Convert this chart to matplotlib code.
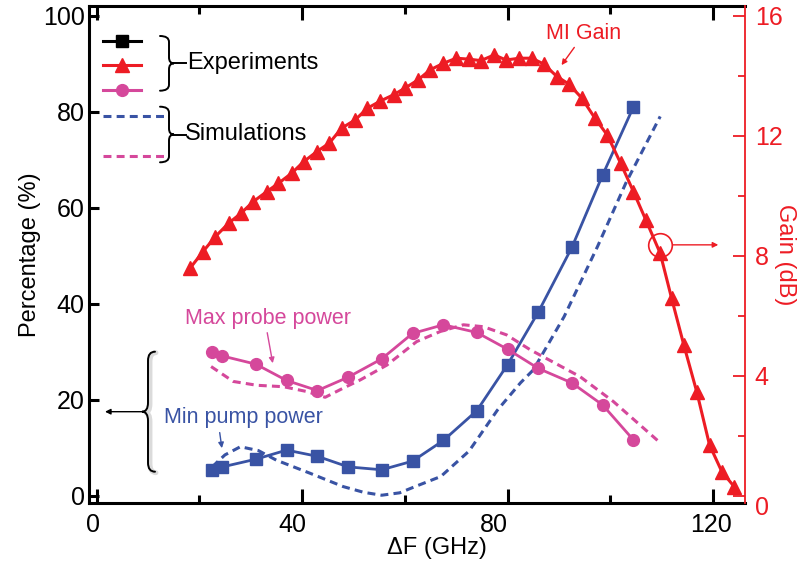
import numpy as np
import matplotlib.pyplot as plt
from matplotlib import font_manager
from matplotlib.path import Path
from matplotlib.patches import PathPatch
from matplotlib.lines import Line2D
from matplotlib.transforms import ScaledTranslation

plt.rcParams['font.family'] = ['Liberation Sans', 'DejaVu Sans']

BLUE = '#3953a4'
RED = '#ed1c24'
PINK = '#d5489b'

# эксперимент: мощность накачки / пробы (%)
exp_f = [22.5, 24.5, 31, 37, 43, 49, 55.5, 61.5, 67.5, 74, 80, 86, 92.5, 98.5, 104.5]
pump_pct = [5.4, 6.0, 7.6, 9.5, 8.2, 6.0, 5.4, 7.2, 11.5, 17.7, 27.3, 38.3, 51.7, 66.8, 81.0]
probe_pct = [29.9, 29.1, 27.4, 24.0, 21.9, 24.7, 28.5, 33.8, 35.6, 34.0, 30.5, 26.5, 23.5, 18.9, 11.6]

# моделирование
sim_pump_f = [22.5, 25, 28, 31.5, 35, 41.5, 48, 52, 55.5, 59, 62, 67, 72.5, 78, 82.5, 85, 91, 97.5, 103, 109.7]
sim_pump_pct = [6.0, 8.5, 10.2, 9.4, 7.4, 4.7, 1.9, 0.7, 0.1, 0.6, 1.9, 4.0, 9.3, 17.8, 23.5, 26.2, 37.3, 51.9, 65.1, 79.0]
sim_probe_f = [22.3, 26.6, 31.2, 36.4, 40.9, 44.5, 48, 51.3, 56.5, 62.3, 66.9, 71.4, 75.3, 79.8, 84.4, 87, 94.1, 100.6, 109.4]
sim_probe_pct = [26.9, 23.8, 23.0, 22.7, 21.7, 20.5, 22.4, 24.1, 27.2, 32.1, 34.2, 35.6, 35.2, 33.5, 30.4, 28.9, 24.8, 19.6, 11.3]

# усиление MI (дБ)
gain_f = [18.2, 20.7, 23.1, 25.7, 28.1, 30.5, 33.1, 35.4, 38.0, 40.3, 42.9, 45.3, 47.7, 50.3,
          52.7, 55.2, 57.8, 60.0, 62.6, 64.9, 67.5, 70.0, 72.4, 74.8, 77.4, 79.7, 82.3, 84.7,
          87.0, 89.6, 91.9, 94.4, 97.0, 99.4, 102.0, 104.5, 106.9, 109.7, 111.9, 114.3, 116.8,
          119.3, 121.7, 124.1]
gain_db = [7.58, 8.13, 8.63, 9.08, 9.41, 9.80, 10.13, 10.41, 10.75, 11.13, 11.47, 11.75, 12.25, 12.52,
           12.91, 13.15, 13.36, 13.58, 13.86, 14.19, 14.41, 14.58, 14.55, 14.50, 14.69, 14.52, 14.58, 14.58,
           14.39, 13.97, 13.72, 13.26, 12.58, 12.02, 11.08, 10.13, 9.19, 8.08, 6.59, 5.02, 3.47,
           1.69, 0.80, 0.30]

W, H = 809, 563


def fig_xy(px, py):
    # пиксели картинки -> доли фигуры
    return px / W, 1 - py / H


def brace(fig, x_end, x_mid, x_tip, y_top, y_bot, r, color='black', lw=1.4, extra=None, alpha=1):
    ym = (y_top + y_bot) / 2
    pts = [(x_end, y_top), (x_mid, y_top), (x_mid, y_top + r),
           (x_mid, ym - r), (x_mid, ym), (x_tip, ym),
           (x_mid, ym), (x_mid, ym + r),
           (x_mid, y_bot - r), (x_mid, y_bot), (x_end, y_bot)]
    codes = [Path.MOVETO, Path.CURVE3, Path.CURVE3,
             Path.LINETO, Path.CURVE3, Path.CURVE3,
             Path.CURVE3, Path.CURVE3,
             Path.LINETO, Path.CURVE3, Path.CURVE3]
    verts = [fig_xy(x, y) for x, y in pts]
    p = PathPatch(Path(verts, codes), fill=False, edgecolor=color, lw=lw, alpha=alpha,
                  transform=fig.transFigure, capstyle='round')
    fig.add_artist(p)
    if extra is not None:
        fig.add_artist(Line2D(*zip(*[fig_xy(*extra[0]), fig_xy(*extra[1])]),
                              color=color, lw=lw, transform=fig.transFigure))


fig = plt.figure(figsize=(W / 100, H / 100), dpi=100)
ax = fig.add_axes([89 / W, 1 - 503 / H, (745 - 89) / W, (503 - 6) / H])
ax2 = ax.twinx()

DASH = (2.6, 1.7)
ax.plot(sim_pump_f, sim_pump_pct, color=BLUE, lw=2.2, dashes=DASH)
ax.plot(sim_probe_f, sim_probe_pct, color=PINK, lw=2.2, dashes=DASH)
ax.plot(exp_f, pump_pct, color=BLUE, lw=2, marker='s', ms=8.5)
ax.plot(exp_f, probe_pct, color=PINK, lw=2, marker='o', ms=8.5)
ax2.plot(gain_f, gain_db, color=RED, lw=2.2, marker='^', ms=9.5)

ax.set_xlim(-1.46, 126.2)
ax.set_ylim(-1.52, 102.0)
ax2.set_ylim(-1.52 * 0.16, 102.0 * 0.16)

ax.set_xticks([0, 40, 80, 120])
ax.set_xticks([20, 60, 100], minor=True)
ax.set_yticks([0, 20, 40, 60, 80, 100])
ax2.set_yticks([0, 4, 8, 12, 16])
ax2.set_yticks([2, 6, 10, 14], minor=True)

ax.tick_params(axis='x', which='major', direction='in', top=True, length=10, width=2.2, pad=7, labelsize=18)
ax.tick_params(axis='x', which='minor', direction='in', top=True, length=6, width=2.2)
ax.tick_params(axis='y', which='major', direction='in', length=7, width=2.2, pad=3, labelsize=18)
ax2.tick_params(axis='y', which='major', direction='in', length=8.5, width=1.3, pad=7,
                colors=RED, labelsize=18)
ax2.tick_params(axis='y', which='minor', direction='in', length=5, width=1.3, colors=RED)
ax2.get_yticklabels()[0].set_verticalalignment('top')

# в оригинале подписи 40 и 80 сдвинуты чуть влево от делений
for lab, dx in zip(ax.get_xticklabels(), [-3.5, -10, -14, -2]):
    lab.set_transform(lab.get_transform() + ScaledTranslation(dx / 100, 0, fig.dpi_scale_trans))

for s in ['left', 'top', 'bottom']:
    ax.spines[s].set_linewidth(2.2)
    ax2.spines[s].set_visible(False)
ax.spines['right'].set_visible(False)
ax2.spines['right'].set_color(RED)
ax2.spines['right'].set_linewidth(1.3)

ax.set_xlabel('ΔF (GHz)', fontsize=17)
ax.xaxis.set_label_coords((437 - 89) / 656, -0.068)
ax.set_ylabel('Percentage (%)', fontsize=17)
ax.yaxis.set_label_coords((30 - 89) / 656, 0.5)
ax.yaxis.label.set_va('center')
ax2.set_ylabel('Gain (dB)', fontsize=17, color=RED, rotation=270)
ax2.yaxis.set_label_coords((785 - 89) / 656, 0.5)
ax2.yaxis.label.set_va('center')

# легенда: эксперимент и моделирование
h_exp = [Line2D([], [], color='black', lw=2.2, marker='s', ms=8.5),
         Line2D([], [], color=RED, lw=2.2, marker='^', ms=9.5),
         Line2D([], [], color=PINK, lw=2.2, marker='o', ms=8.5)]
leg1 = ax.legend(h_exp, ['', '', ''], loc='upper left', bbox_to_anchor=(14 / 656, 0.941),
                 frameon=False, borderpad=0, borderaxespad=0, fontsize=10,
                 handlelength=2.74, handleheight=1.2, labelspacing=0.68, numpoints=1)
ax.add_artist(leg1)
h_sim = [Line2D([], [], color=BLUE, lw=2.2, dashes=DASH),
         Line2D([], [], color=PINK, lw=2.2, dashes=DASH)]
ax.legend(h_sim, ['', ''], loc='upper left', bbox_to_anchor=(14 / 656, 0.791),
          frameon=False, borderpad=0, borderaxespad=0, fontsize=10,
          handlelength=4.5, handleheight=1.2, labelspacing=1.8)

brace(fig, 160, 169, 174, 36, 90.7, 6, extra=((174, 63.3), (186, 63.3)))
brace(fig, 160, 169, 174, 106.7, 162.3, 6, extra=((174, 134.5), (186, 134.5)))
fig.text(*fig_xy(187, 63.3), 'Experiments', fontsize=17, va='center', ha='left')
fig.text(*fig_xy(185, 134.5), 'Simulations', fontsize=17, va='center', ha='left')

# большая скобка слева со стрелкой (с лёгкой тенью)
brace(fig, 156, 150, 145, 352.7, 472.7, 9, color='0.6', lw=3.5, alpha=0.35)
brace(fig, 155, 148, 142, 351.7, 471.7, 9, lw=1.4)
ax.annotate('', xy=fig_xy(105, 411.7), xytext=fig_xy(142, 411.7),
            xycoords='figure fraction', textcoords='figure fraction',
            arrowprops=dict(arrowstyle='-|>', color='black', lw=1, shrinkA=0, shrinkB=0,
                            mutation_scale=8))

# подписи кривых
arrow_kw = dict(arrowstyle='-|>', lw=1, shrinkA=1, shrinkB=0, mutation_scale=8)
ax2.annotate('MI Gain', xy=(90.5, 14.35), xytext=(94.7, 15.42), color=RED, fontsize=15.5,
             ha='center', va='center',
             arrowprops=dict(color=RED, relpos=(0.42, 0), **arrow_kw))
ax.annotate('Max probe power', xy=(34.3, 27.6), xytext=(33.4, 37.0), color=PINK, fontsize=15.5,
            ha='center', va='center',
            arrowprops=dict(color=PINK, relpos=(0.49, 0), **arrow_kw))
ax.annotate('Min pump power', xy=(24.4, 9.9), xytext=(28.5, 16.2), color=BLUE, fontsize=15.5,
            ha='center', va='center',
            arrowprops=dict(color=BLUE, relpos=(0.35, 0), **arrow_kw))

# кружок на кривой усиления -> правая ось
ax2.plot([gain_f[37]], [gain_db[37] + 0.28], marker='o', ms=17, mfc='none', mec=RED, mew=1.2)
ax2.annotate('', xy=(121.0, gain_db[37] + 0.28), xytext=(gain_f[37], gain_db[37] + 0.28),
             arrowprops=dict(color=RED, arrowstyle='-|>', lw=1, shrinkA=9, shrinkB=0,
                             mutation_scale=8))

fig.savefig('out.png', dpi=100)
